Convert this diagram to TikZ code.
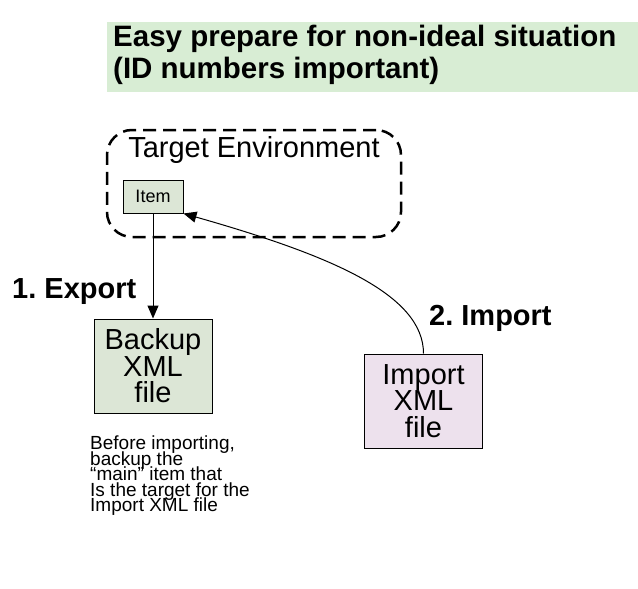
\documentclass[tikz,border=0pt]{standalone}
\usepackage{fontspec}
\setmainfont{Liberation Sans}
\usetikzlibrary{arrows.meta}
\frenchspacing

\definecolor{titlegreen}{HTML}{D8EDD4}
\definecolor{itemgreen}{HTML}{DCE6D6}
\definecolor{importpink}{HTML}{EDE1ED}
\newcommand{\tightlines}{\lineskiplimit=-40pt\relax}

\begin{document}
\begin{tikzpicture}[x=1pt,y=1pt,
	filebox/.style={draw=black,line width=1pt,inner sep=0pt,align=center,
		minimum width=118pt,minimum height=94pt,
		font=\fontsize{29}{26.5}\selectfont\tightlines},
	steplabel/.style={anchor=base west,inner sep=0pt,font=\bfseries\fontsize{29}{32}\selectfont},
	arr/.style={-{Triangle[length=13pt,width=11pt]},line width=1pt}]
	\useasboundingbox (0,0) rectangle (638,-589);
	
	%title
	\fill[titlegreen] (107,-22) rectangle (638,-92);
	\node[anchor=north west,inner sep=0pt,align=left,font=\bfseries\fontsize{29.5}{32}\selectfont] (title) at (113,-25)
		{Easy prepare for non-ideal situation\\(ID numbers important)};
	
	%environment
	\node[draw=black,line width=2.5pt,dash pattern=on 13pt off 7pt,rounded corners=25pt,
		minimum width=294pt,minimum height=107pt,inner sep=0pt] (env) at (254,-183.5) {};
	\node[anchor=base,inner sep=0pt,font=\fontsize{29}{32}\selectfont] (envlabel) at (254,-157) {Target Environment};
	
	%boxes
	\node[draw=black,line width=1pt,fill=itemgreen,minimum width=60pt,minimum height=33pt,inner sep=0pt,
		font=\fontsize{18}{20}\selectfont] (item) at (153,-196.5) {Item};
	\node[filebox,fill=itemgreen] (backup) at (153,-366) {Backup\\XML\\file};
	\node[filebox,fill=importpink] (import) at (423.5,-401) {Import\\XML\\file};
	
	%arrows
	\draw[arr] (item) -- (backup);	%export
	\draw[arr] (import.north) .. controls +(0,60) and +(144,-41) .. (item.south east);	%import
	
	%labels
	\node[steplabel] (exportlabel) at (12,-298) {1. Export};
	\node[steplabel] (importlabel) at (429,-325) {2. Import};
	\node[anchor=north west,inner sep=0pt,align=left,font=\fontsize{19}{15.5}\selectfont\tightlines] (note) at (90,-436)
		{Before importing,\\backup the\\“main” item that\\Is the target for the\\Import XML file};
\end{tikzpicture}
\end{document}
